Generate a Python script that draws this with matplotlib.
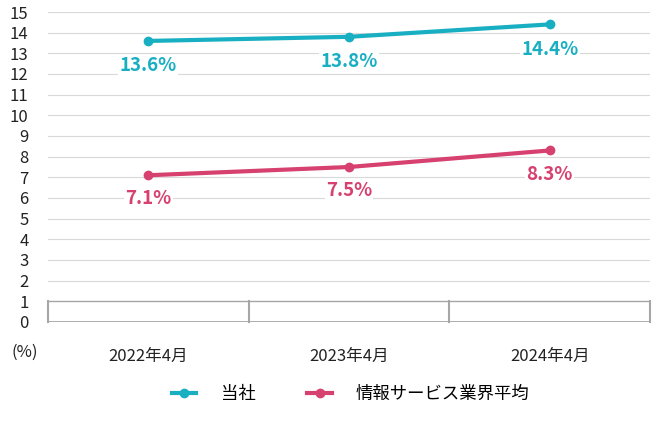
import matplotlib
matplotlib.use("Agg")
import matplotlib.pyplot as plt
from matplotlib.lines import Line2D

plt.rcParams["font.family"] = ["Noto Sans CJK JP"]

categories = ["2022年4月", "2023年4月", "2024年4月"]
company = [13.6, 13.8, 14.4]
industry = [7.1, 7.5, 8.3]
series_names = ["当社", "情報サービス業界平均"]
yticks = list(range(0, 16))

TEAL = "#19AFC3"
PINK = "#D7416F"
GRID = "#D9D9D9"
FRAME = "#A6A6A6"
TXT = "#222222"

fig = plt.figure(figsize=(6.62, 4.26), dpi=100)
ax = fig.add_axes([48 / 662, 104 / 426, 602 / 662, 310 / 426])
x = list(range(len(categories)))

for v in yticks[2:]:
    ax.axhline(v, color=GRID, lw=0.8, zorder=0)
# bottom category box between 0 and 1
ax.axhline(1, color=FRAME, lw=1.0, zorder=1)
ax.axhline(0, color=FRAME, lw=2.0, zorder=1)
for b in [-0.5, 0.5, 1.5, 2.5]:
    ax.plot([b, b], [0, 1], color=FRAME, lw=1.5, zorder=1, clip_on=False)

ax.plot(x, company, color=TEAL, lw=3, marker="o", ms=6, zorder=3)
ax.plot(x, industry, color=PINK, lw=3, marker="o", ms=6, zorder=3)

for xi, v in zip(x, company):
    ax.annotate(f"{v}%", (xi, v), xytext=(0, -18), textcoords="offset points",
                ha="center", va="center", color=TEAL, fontsize=13.5, fontweight="bold",
                bbox=dict(facecolor="white", edgecolor="none", pad=1), zorder=4)
for xi, v in zip(x, industry):
    ax.annotate(f"{v}%", (xi, v), xytext=(0, -17), textcoords="offset points",
                ha="center", va="center", color=PINK, fontsize=13.5, fontweight="bold",
                bbox=dict(facecolor="white", edgecolor="none", pad=1), zorder=4)

ax.set_xlim(-0.5, 2.5)
ax.set_ylim(0, 15)
ax.set_yticks(yticks)
ax.set_yticklabels([str(t) for t in yticks], fontsize=12, color=TXT)
ax.set_xticks(x)
ax.set_xticklabels(categories, fontsize=12, color=TXT)
ax.tick_params(length=0)
ax.tick_params(axis="x", pad=19)
ax.tick_params(axis="y", pad=14)
for s in ax.spines.values():
    s.set_visible(False)

fig.text(25 / 662, 1 - 352 / 426, "(%)", ha="center", va="center", fontsize=12, color=TXT)

handles = [Line2D([0], [0], color=TEAL, lw=3, marker="o", ms=6),
           Line2D([0], [0], color=PINK, lw=3, marker="o", ms=6)]
fig.legend(handles, series_names, loc="center", bbox_to_anchor=(0.53, 1 - 394 / 426),
           ncol=2, frameon=False, fontsize=12.5, handlelength=1.4, columnspacing=3.0,
           handletextpad=1.4)

fig.savefig("out.png", dpi=100)
